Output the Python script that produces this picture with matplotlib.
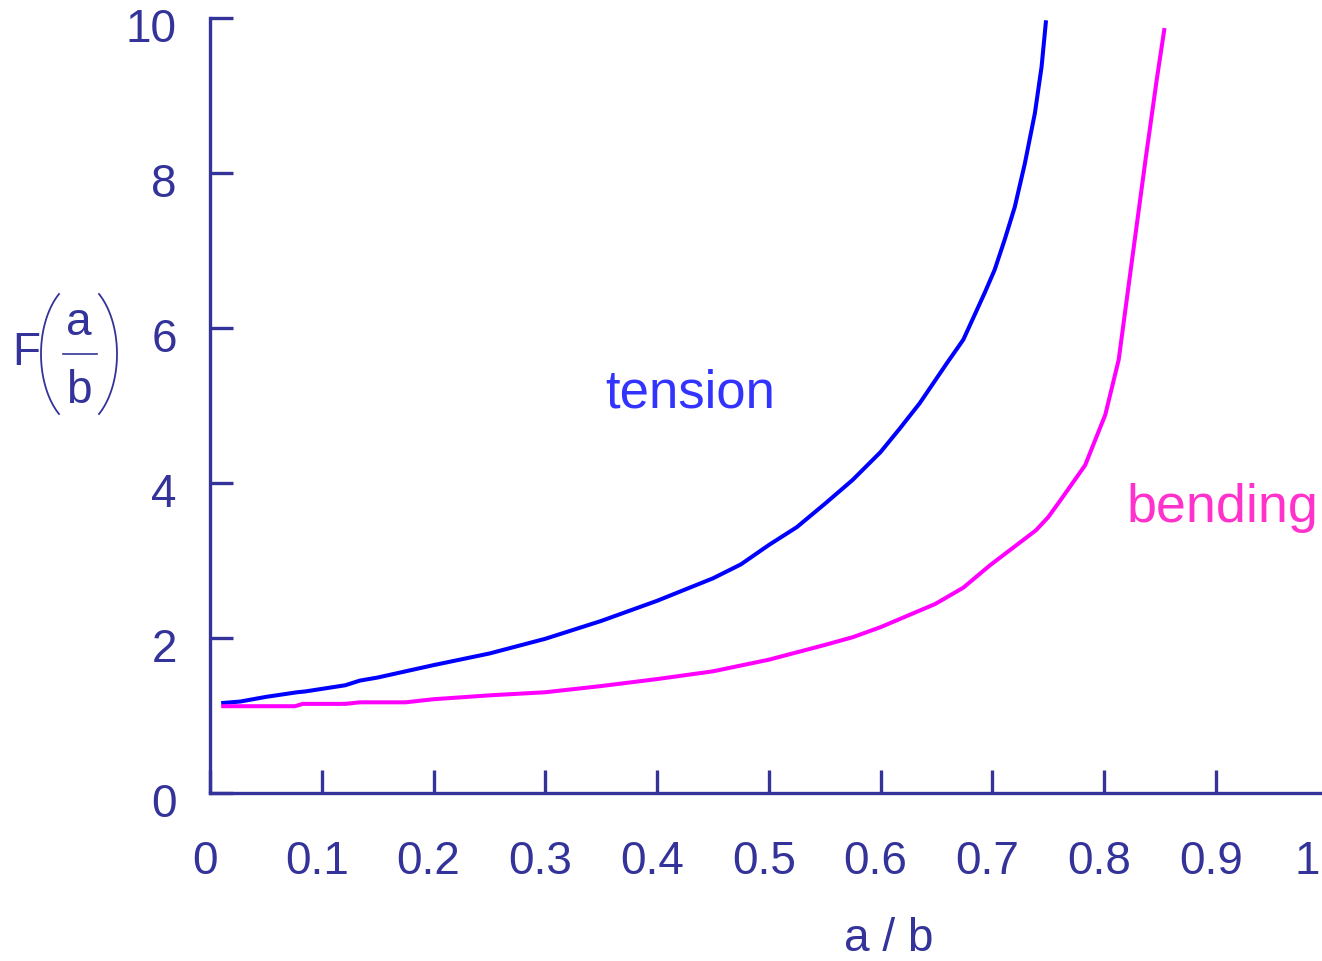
import numpy as np
import matplotlib
matplotlib.use("Agg")
import matplotlib.pyplot as plt
from matplotlib.lines import Line2D
from matplotlib.transforms import ScaledTranslation

# Stress-intensity correction factor F(a/b) for tension and bending
tension_x = [0.01, 0.027, 0.05, 0.078, 0.085, 0.121, 0.134, 0.15, 0.2, 0.25,
             0.3, 0.35, 0.4, 0.45, 0.475, 0.5, 0.525, 0.55, 0.575, 0.6,
             0.617, 0.635, 0.659, 0.674, 0.693, 0.702, 0.711, 0.72, 0.729,
             0.738, 0.744, 0.748]
tension_y = [1.16, 1.18, 1.24, 1.30, 1.31, 1.39, 1.45, 1.49, 1.65, 1.80,
             1.99, 2.22, 2.48, 2.77, 2.95, 3.20, 3.43, 3.73, 4.04, 4.40,
             4.70, 5.03, 5.54, 5.85, 6.45, 6.75, 7.14, 7.56, 8.12,
             8.77, 9.37, 9.97]

bending_x = [0.01, 0.076, 0.083, 0.121, 0.134, 0.175, 0.2, 0.25, 0.3, 0.35,
             0.4, 0.45, 0.5, 0.55, 0.575, 0.6, 0.649, 0.674, 0.698, 0.739,
             0.75, 0.762, 0.783, 0.801, 0.813, 0.8245, 0.837, 0.847, 0.854]
bending_y = [1.12, 1.12, 1.15, 1.15, 1.17, 1.17, 1.21, 1.26, 1.30, 1.38,
             1.47, 1.57, 1.72, 1.91, 2.01, 2.14, 2.44, 2.65, 2.94, 3.39,
             3.56, 3.80, 4.23, 4.88, 5.59, 6.83, 8.17, 9.20, 9.87]

x_ticks = [0, 0.1, 0.2, 0.3, 0.4, 0.5, 0.6, 0.7, 0.8, 0.9, 1]
x_tick_labels = ["0", "0.1", "0.2", "0.3", "0.4", "0.5", "0.6", "0.7", "0.8", "0.9", "1"]
y_ticks = [0, 2, 4, 6, 8, 10]
y_tick_labels = ["0", "2", "4", "6", "8", "10"]

AXIS_COLOR = "#333399"
TENSION_COLOR = "#0000FF"
BENDING_COLOR = "#FF00FF"
FONT = "Liberation Sans"

W, H = 1322, 961
fig = plt.figure(figsize=(W / 100, H / 100), dpi=100)
fig.patch.set_facecolor("white")


def fx(x):
    return x / W


def fy(y):
    return 1 - y / H


ax = fig.add_axes([fx(210), fy(793), 1117.7 / W, 775 / H])
ax.set_xlim(0, 1)
ax.set_ylim(0, 10)

ax.plot(tension_x, tension_y, color=TENSION_COLOR, lw=2.9, solid_capstyle="butt")
ax.plot(bending_x, bending_y, color=BENDING_COLOR, lw=2.9, solid_capstyle="butt")

for side in ("top", "right"):
    ax.spines[side].set_visible(False)
for side in ("left", "bottom"):
    ax.spines[side].set_color(AXIS_COLOR)
    ax.spines[side].set_linewidth(2.4)
    ax.spines[side].set_capstyle("projecting")

ax.set_xticks(x_ticks)
ax.set_xticklabels(x_tick_labels)
ax.set_yticks(y_ticks)
ax.set_yticklabels(y_tick_labels)
ax.tick_params(axis="both", direction="in", length=16.5, width=2.4,
               color=AXIS_COLOR, labelcolor=AXIS_COLOR, labelsize=33)
ax.tick_params(axis="y", pad=24)
ax.tick_params(axis="x", pad=34)
for lab in ax.get_xticklabels() + ax.get_yticklabels():
    lab.set_fontfamily(FONT)

# nudge tick labels slightly
dy = ScaledTranslation(0, -7 / 100, fig.dpi_scale_trans)
for lab in ax.get_yticklabels():
    lab.set_transform(lab.get_transform() + dy)
xlabs = ax.get_xticklabels()
for i, lab in enumerate(xlabs):
    shift = -5 if i < len(xlabs) - 1 else -20
    lab.set_transform(lab.get_transform()
                      + ScaledTranslation(shift / 100, 0, fig.dpi_scale_trans))

# curve labels
ax.text(0.3534, 4.97, "tension", color="#3333FF", fontsize=38,
        family=FONT, ha="left", va="baseline")
ax.text(0.8204, 3.50, "bending", color="#FF33CC", fontsize=38.8,
        family=FONT, ha="left", va="baseline")

# x-axis title
fig.text(fx(889), fy(951), "a / b", color=AXIS_COLOR, fontsize=33,
         family=FONT, ha="center", va="baseline")

# y-axis title: F(a/b) built from pieces
fig.text(fx(12), fy(365), "F", color=AXIS_COLOR, fontsize=33,
         family=FONT, ha="left", va="baseline")
fig.text(fx(79), fy(335), "a", color=AXIS_COLOR, fontsize=33,
         family=FONT, ha="center", va="baseline")
fig.text(fx(79), fy(403), "b", color=AXIS_COLOR, fontsize=33,
         family=FONT, ha="center", va="baseline")
fig.add_artist(Line2D([fx(63), fx(97)], [fy(354), fy(354)],
                      transform=fig.transFigure, color=AXIS_COLOR, lw=1.2))

t0 = np.arcsin(0.8)
t = np.linspace(-t0, t0, 60)
rx, ry, cy = 45, 75, 354
left_px = 86 - rx * np.cos(t)
right_px = 72 + rx * np.cos(t)
ys_px = cy + ry * np.sin(t)
fig.add_artist(Line2D(fx(left_px), fy(ys_px), transform=fig.transFigure,
                      color=AXIS_COLOR, lw=1.3))
fig.add_artist(Line2D(fx(right_px), fy(ys_px), transform=fig.transFigure,
                      color=AXIS_COLOR, lw=1.3))

fig.savefig("out.png", dpi=100, facecolor="white")
